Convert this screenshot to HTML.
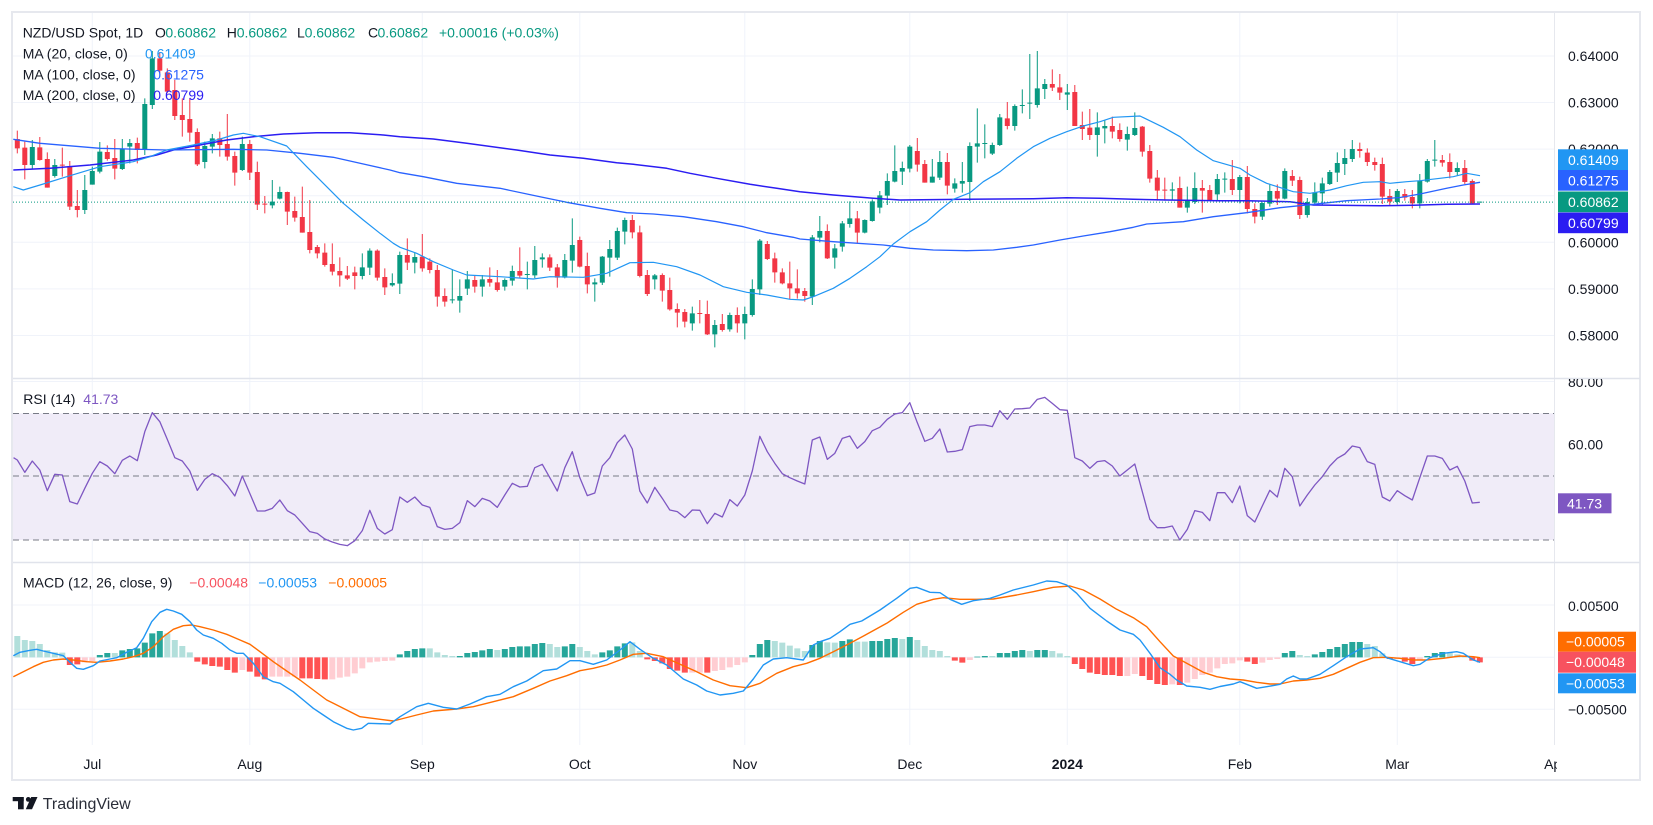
<!DOCTYPE html>
<html><head><meta charset="utf-8">
<style>
html,body{margin:0;padding:0;background:#fff;width:1653px;height:825px;overflow:hidden;}
svg{display:block;font-family:"Liberation Sans",Arial,sans-serif;}
</style></head>
<body>
<svg width="1653" height="825" viewBox="0 0 1653 825" xmlns="http://www.w3.org/2000/svg">
<defs>
<clipPath id="cm"><rect x="13" y="13" width="1541" height="365"/></clipPath>
<clipPath id="cr"><rect x="13" y="379" width="1541" height="183"/></clipPath>
<clipPath id="cd"><rect x="13" y="563" width="1541" height="182"/></clipPath>
<clipPath id="ca"><rect x="1555" y="379" width="85" height="183"/></clipPath>
<clipPath id="ct"><rect x="13" y="746" width="1544" height="33"/></clipPath>
</defs>
<rect x="0" y="0" width="1653" height="825" fill="#fff"/>

<!-- grid -->
<g stroke="#F0F3FA" stroke-width="1">
<line x1="13" x2="1554" y1="56" y2="56"/><line x1="13" x2="1554" y1="102.5" y2="102.5"/>
<line x1="13" x2="1554" y1="149.1" y2="149.1"/><line x1="13" x2="1554" y1="195.7" y2="195.7"/>
<line x1="13" x2="1554" y1="242.3" y2="242.3"/><line x1="13" x2="1554" y1="288.9" y2="288.9"/>
<line x1="13" x2="1554" y1="335.5" y2="335.5"/>
<line x1="13" x2="1554" y1="381.5" y2="381.5"/><line x1="13" x2="1554" y1="444.5" y2="444.5"/>
<line x1="13" x2="1554" y1="508.5" y2="508.5"/>
<line x1="13" x2="1554" y1="605" y2="605"/><line x1="13" x2="1554" y1="657.3" y2="657.3"/>
<line x1="13" x2="1554" y1="709.3" y2="709.3"/>
<line x1="92.3" x2="92.3" y1="13" y2="745"/><line x1="249.8" x2="249.8" y1="13" y2="745"/>
<line x1="422.3" x2="422.3" y1="13" y2="745"/><line x1="579.8" x2="579.8" y1="13" y2="745"/>
<line x1="744.8" x2="744.8" y1="13" y2="745"/><line x1="909.8" x2="909.8" y1="13" y2="745"/>
<line x1="1067.3" x2="1067.3" y1="13" y2="745"/><line x1="1239.8" x2="1239.8" y1="13" y2="745"/>
<line x1="1397.3" x2="1397.3" y1="13" y2="745"/>
</g>

<!-- RSI band -->
<rect x="13" y="413.3" width="1541" height="126.7" fill="#F0ECF8"/>
<g stroke="#787B86" stroke-width="1" stroke-dasharray="6 4">
<line x1="13" x2="1554" y1="413.5" y2="413.5"/>
<line x1="13" x2="1554" y1="476" y2="476"/>
<line x1="13" x2="1554" y1="540" y2="540"/>
</g>

<!-- MACD histogram -->
<g clip-path="url(#cd)">
<g transform="matrix(7.5 0 0 0.333333 92.3 375)" fill="none" stroke-width="0.8">
<path stroke="#26A69A" d="M1 847V840M2 847V834M4 847V826M5 847V822M6 847V820M7 847V803M8 847V775M9 847V768M41 847V838M42 847V828M43 847V822M44 847V820M49 847V843M50 847V834M51 847V831M52 847V826M53 847V822M55 847V822M56 847V816M57 847V814M58 847V814M59 847V807M60 847V804M63 847V814M64 847V807M68 847V832M69 847V826M70 847V814M71 847V805M88 847V840M89 847V807M90 847V795M96 847V810M97 847V798M100 847V798M101 847V793M104 847V798M105 847V798M106 847V792M107 847V789M109 847V786M118 847V845M119 847V843M121 847V834M122 847V834M123 847V828M124 847V825M126 847V825M127 847V825M159 847V834M160 847V828M163 847V838M164 847V831M165 847V822M166 847V816M167 847V807M168 847V801M169 847V801M178 847V843M179 847V834M180 847V831"/>
<path stroke="#B2DFDB" d="M-10 847V783M-9 847V795M-8 847V798M-7 847V807M-6 847V825M-5 847V832M-4 847V833M3 847V834M10 847V775M11 847V795M12 847V813M13 847V832M45 847V820M46 847V832M47 847V840M48 847V843M54 847V825M61 847V807M62 847V816M65 847V816M66 847V828M67 847V838M72 847V802M73 847V828M91 847V798M92 847V803M93 847V812M94 847V820M95 847V828M98 847V802M99 847V803M102 847V800M103 847V800M108 847V792M110 847V795M111 847V813M112 847V825M113 847V828M114 847V843M120 847V843M125 847V828M128 847V828M129 847V835M130 847V843M161 847V840M162 847V843M170 847V807M171 847V813M172 847V835M181 847V834M182 847V838M183 847V843"/>
<path stroke="#FF5252" d="M-3 847V870M-2 847V868M14 847V860M15 847V868M16 847V873M17 847V875M18 847V885M19 847V893M21 847V890M22 847V905M23 847V913M28 847V910M29 847V910M30 847V912M31 847V913M74 847V853M75 847V858M76 847V865M77 847V882M78 847V887M79 847V893M82 847V893M115 847V857M116 847V863M131 847V867M132 847V882M133 847V893M134 847V897M135 847V900M136 847V900M137 847V903M140 847V903M141 847V915M142 847V927M143 847V930M145 847V930M154 847V860M155 847V867M173 847V852M175 847V860M176 847V867M184 847V857M185 847V862"/>
<path stroke="#FFCDD2" d="M-1 847V862M0 847V858M20 847V885M24 847V905M25 847V905M26 847V905M27 847V905M32 847V913M33 847V908M34 847V905M35 847V895M36 847V880M37 847V862M38 847V860M39 847V858M40 847V857M80 847V893M81 847V893M83 847V888M84 847V885M85 847V877M86 847V870M87 847V862M117 847V855M138 847V903M139 847V897M144 847V928M146 847V923M147 847V912M148 847V900M149 847V893M150 847V880M151 847V867M152 847V865M153 847V856M156 847V863M157 847V855M158 847V852M174 847V852M177 847V855"/>
</g>
<!-- MACD lines -->
<polyline fill="none" stroke="#FF6D00" stroke-width="1.4" stroke-linejoin="round" points="13.3,676.7 23.3,671.7 33.3,666.7 43.3,662.3 53.3,660 63.3,659 73.3,660 86.7,661.7 96.7,662.3 110,661 123.3,659 133.3,656.7 143.3,653.3 153.3,646.7 163.3,636.7 173.3,629.3 183.3,625.7 191.7,625 200,626.7 213.3,630 226.7,634.3 240,640 250,644.3 260,651.7 273.3,661.7 286.7,671 300,680 313.3,690 326.7,700 333.3,703.3 360,716.7 393.3,721 416.7,715 433.3,711 456.7,709 473.3,706.7 493.3,701.7 513.3,696.7 533.3,688.3 550,681 566.7,675.7 580,670.7 593.3,668.3 606.7,665 620,660 633.3,654.3 646.7,653.3 663.3,656.7 680,664.3 696.7,671.7 713.3,680 730,685.7 746.7,687.7 760,683.3 776.7,673.3 793.3,666.7 806.7,663.3 820,658.3 833.3,651.7 850,643.3 866.7,634.3 886.7,623.3 903.3,612.3 916.7,604.3 933.3,599.3 943.3,597.7 960,599.3 976.7,599.3 993.3,599 1016.7,595 1033.3,591.7 1053.3,587.3 1070,586 1083.3,590 1100,599 1116.7,609.3 1133.3,617.7 1146.7,626.7 1160,641.7 1173.3,656 1186.7,663.3 1203.3,672.3 1216.7,676.7 1230,679 1243.3,680 1256.7,682.3 1270,684 1280,684 1293.3,681 1306.7,680 1320,678.3 1333.3,674.3 1346.7,668.3 1360,662.3 1373.3,657.7 1386.7,657.3 1400,658.3 1413.3,660 1426.7,660 1443.3,658.3 1460,656 1473.3,656.7 1480,657.7"/>
<polyline fill="none" stroke="#2196F3" stroke-width="1.4" stroke-linejoin="round" points="13.3,655.7 20,652.3 30,650.3 36.7,649.3 43.3,651 53.3,653.3 63.3,655.7 70,662.3 76.7,668.3 83.3,669.3 93.3,665.7 100,661 110,659 116.7,657.7 126.7,652.3 136.7,647.7 143.3,638.3 151.7,621.7 160,612.3 166.7,609.3 173.3,611 181.7,614.3 190,621.7 196.7,630 203.3,635 213.3,638.3 221.7,643.3 230,650 236.7,653.3 243.3,653.3 253.3,663.3 263.3,676.7 273.3,681.7 280,683.3 293.3,691.7 303.3,700 313.3,708.3 323.3,715 333.3,721.7 346.7,728.3 353.3,730 361.7,728.3 368.3,723.3 390,724 400,716.7 416.7,706.7 428.3,703.3 443.3,707.3 456.7,709 470,704 486.7,696.7 500,694.3 513.3,686.7 526.7,681 543.3,670.7 556.7,669 570,660.7 580,660.7 593.3,664.3 606.7,660 620,650 630,641.7 640,649.3 653.3,658.3 666.7,665 683.3,679 696.7,685 706.7,691 720,695 733.3,693.3 743.3,691 753.3,679 763.3,665 773.3,659 786.7,657.7 803.3,660 813.3,645 820,641.7 830,638.3 840,631.7 850,624.3 861.7,621 880,610 896.7,598.3 910,588.3 916.7,587.3 930,592.3 940,592.7 950,599.3 961.7,604.3 973.3,600.7 990,598.3 1000,595 1013.3,590 1033.3,585 1046.7,581 1056.7,581.7 1066.7,585 1076.7,593.3 1090,608.3 1106.7,621 1120,630 1133.3,634.3 1140,640 1150,653.3 1160,667.7 1170,674.3 1176.7,680 1186.7,686 1200,687.3 1210,689.3 1220,686.5 1233.3,684 1240,681.7 1246.7,684.3 1256.7,688.3 1266.7,686.7 1280,684.3 1286.7,679 1293.3,676 1300,679 1306.7,679 1320,674.3 1333.3,665.7 1346.7,656.7 1360,649 1373.3,647.7 1380,651.7 1386.7,657.7 1400,661.7 1413.3,665.7 1420,664.3 1430,657.7 1443.3,653.3 1456.7,651.7 1463.3,653.3 1473.3,660 1480,662.3"/>
</g>

<!-- RSI line -->
<g clip-path="url(#cr)">
<g transform="matrix(7.5 0 0 0.333333 92.3 375)">
<polyline fill="none" stroke="#7E57C2" stroke-width="1.3" vector-effect="non-scaling-stroke" stroke-linejoin="round" points="-10.5,248 -10,255 -9,292 -8,258 -7,285 -6,347 -5,298 -4,300 -3,380 -2,387 -1,340 0,295 1,260 2,273 3,296 4,256 5,243 6,257 7,170 8,113 9,140 10,193 11,248 12,258 13,288 14,346 15,313 16,296 17,307 18,332 19,363 20,303 21,355 22,408 23,408 24,400 25,375 26,407 27,420 28,445 29,470 30,475 31,492 32,501 33,508 34,512 35,497 36,467 37,406 38,460 39,477 40,464 41,366 42,382 43,366 44,390 45,397 46,455 47,463 48,460 49,443 50,377 51,395 52,370 53,378 54,397 55,360 56,325 57,336 58,334 59,278 60,268 61,308 62,348 63,278 64,230 65,308 66,362 67,354 68,273 69,248 70,203 71,180 72,222 73,348 74,384 75,337 76,370 77,405 78,410 79,428 80,405 81,406 82,446 83,415 84,426 85,374 86,393 87,360 88,288 89,184 90,230 91,265 92,296 93,308 94,318 95,327 96,195 97,186 98,253 99,235 100,190 101,183 102,220 103,200 104,167 105,157 106,133 107,117 108,113 109,83 110,143 111,199 112,190 113,162 114,231 115,229 116,224 117,155 118,150 119,150 120,155 121,107 122,133 123,102 124,101 125,99 126,73 127,67 128,85 129,104 130,106 131,248 132,258 133,280 134,260 135,257 136,273 137,303 138,285 139,267 140,350 141,433 142,458 143,458 144,453 145,495 146,463 147,407 148,412 149,437 150,353 151,353 152,383 153,333 154,422 155,441 156,393 157,346 158,366 159,280 160,305 161,393 162,360 163,330 164,305 165,273 166,250 167,237 168,213 169,218 170,260 171,268 172,366 173,378 174,347 175,362 176,375 177,308 178,243 179,243 180,250 181,285 182,274 183,318 184,384 185,382"/>
</g>
</g>

<!-- candles -->
<g clip-path="url(#cm)">
<g transform="matrix(7.5 0 0 0.333333 92.3 40)" fill="none">
<path stroke="#089981" stroke-width="0.1333" d="M-8 300V388M-5 357V413M-1 405V522M0 380V434M1 306V400M4 297V390M5 297V370M7 175V345M8 33V207M15 305V385M16 282V340M20 290V393M24 420V505M25 440V478M36 640V718M37 625V705M40 700V740M41 635V762M43 637V700M48 688V790M49 718V818M50 693V765M52 705V770M55 715V752M56 677V737M58 665V748M59 618V714M60 640V683M63 642V715M64 535V698M67 715V785M68 648V735M69 600V710M70 563V660M71 533V613M75 702V748M80 800V872M83 840V922M85 818V875M87 800V898M88 718V830M89 597V765M96 585V795M97 528V607M99 612V686M100 543V635M101 484V563M103 538V580M104 478V545M105 453V520M106 400V495M107 316V427M108 365V435M109 315V397M112 357V428M113 333V420M115 415V458M116 366V458M117 307V483M118 205V368M119 253V355M120 308V345M121 222V318M123 193V272M124 148V220M125 42V237M126 33V203M127 117V177M130 132V210M134 217V350M135 240V310M138 260V332M139 217V288M144 427V480M146 440V518M147 397V492M150 402V480M151 397V458M153 405V490M156 487V540M157 432V500M159 385V478M162 474V533M163 427V496M164 413V496M165 390V435M166 337V426M167 327V405M168 300V366M174 447V494M177 402V505M178 357V428M179 300V380M182 367V406"/>
<path stroke="#089981" stroke-width="0.6667" d="M-8 321V375M-5 375V408M-1 450V510M0 393V434M1 335V395M4 327V387M5 309V320M7 192V330M8 55V195M15 318V366M16 295V320M20 312V390M24 485V496M25 456V476M36 682V708M37 632V683M40 729V736M41 645V731M43 651V668M48 778V781M49 768V782M50 718V746M52 718V740M55 720V740M56 693V722M58 702V705M59 660V706M60 652V658M63 660V713M64 615V662M67 727V733M68 650V728M69 627V653M70 573V653M71 540V575M75 706V718M80 820V850M83 855V883M85 825V868M87 822V850M88 747V825M89 602V748M96 592V770M97 573V593M99 625V653M100 550V620M101 535V552M103 540V578M104 484V543M105 466V503M106 423V467M107 393V425M108 384V395M109 320V386M112 410V428M113 366V413M115 430V446M116 423V431M117 318V426M118 310V320M119 309V312M120 315V341M121 232V315M123 198V258M124 195V198M125 188V191M126 145V195M127 132V147M130 157V164M134 262V285M135 258V265M138 282V299M139 264V285M144 448V452M146 483V503M147 444V486M150 417V463M151 416V419M153 411V450M156 489V530M157 453V491M159 393V476M162 486V525M163 457V488M164 430V460M165 396V432M166 369V398M167 354V372M168 327V357M174 453V486M177 423V490M178 363V425M179 359V362M182 384V396M185 485V488"/>
<path stroke="#F23645" stroke-width="0.1333" d="M-10 272V340M-9 305V418M-7 291V362M-6 337V443M-4 323V410M-3 363V510M-2 450V532M2 316V362M3 297V418M6 293V370M9 36V100M10 85V160M11 120V240M12 175V290M13 175V305M14 265V378M17 275V350M18 222V362M19 335V437M21 300V420M22 365V510M23 468V520M26 455V555M27 470V545M28 440V578M29 480V640M30 615V655M31 610V680M32 610V706M33 652V740M34 678V720M35 680V748M38 628V722M39 685V765M42 595V690M44 582V695M45 655V700M46 675V800M47 745V800M51 705V758M53 682V740M54 690V755M57 622V715M61 643V693M62 672V743M65 590V682M66 638V760M72 525V595M73 557V712M74 690V768M76 700V785M77 713V812M78 790V862M79 807V862M81 780V850M82 782V885M84 822V875M86 802V878M90 603V660M91 638V728M92 685V733M93 665V778M94 688V776M95 744V785M98 553V657M102 513V610M110 294V395M111 360V428M114 339V463M122 186V268M128 88V153M129 102V180M131 135V258M132 215V300M133 207V300M136 230V295M137 250V305M140 258V350M141 315V428M142 390V482M143 413V482M145 410V503M148 420V518M149 435V482M152 360V465M154 378V520M155 490V550M158 433V495M160 390V438M161 410V537M169 308V353M170 325V378M171 353V392M172 353V492M173 447V497M175 447V482M176 450V505M180 345V380M181 340V415M183 360V432M184 418V492"/>
<path stroke="#F23645" stroke-width="0.6667" d="M-10 297V325M-9 323V375M-7 322V360M-6 357V443M-4 374V377M-3 378V500M-2 498V510M2 336V357M3 354V386M6 309V330M9 55V92M10 97V155M11 150V228M12 225V240M13 237V278M14 276V373M17 295V315M18 312V350M19 348V398M21 312V398M22 396V494M23 491V494M26 456V515M27 513V533M28 531V578M29 576V630M30 621V640M31 638V675M32 672V695M33 693V706M34 706V716M35 697V708M38 632V713M39 711V742M42 645V668M44 650V685M45 665V690M46 690V770M47 768V785M51 720V740M53 717V728M54 727V750M57 693V707M61 652V683M62 682V713M65 600V680M66 678V733M72 540V577M73 577V708M74 705V762M76 705V752M77 750V808M78 807V818M79 816V845M81 819V822M82 822V883M84 852V870M86 825V850M90 612V657M91 655V697M92 697V730M93 730V745M94 745V760M95 753V768M98 573V655M102 535V578M110 333V374M111 372V428M114 366V437M122 235V258M128 132V143M129 142V158M131 156V258M132 255V267M133 263V285M136 258V275M137 270V297M140 260V335M141 333V416M142 413V452M143 449V452M145 444V503M148 444V452M149 450V480M152 417V450M154 411V507M155 507V530M158 453V476M160 408V422M161 420V525M169 327V333M170 338V366M171 366V375M172 372V470M173 468V485M175 462V473M176 471V490M180 360V368M181 366V396M183 384V426M184 423V490"/>
</g>
<!-- MAs -->
<polyline fill="none" stroke="#2B1DF2" stroke-width="1.5" stroke-linejoin="round" points="13.3,170 50,168.3 90,165 133.3,160 156.7,155 173.3,150 200,145 226.7,140 253.3,136.7 283.3,134 316.7,132.7 350,132.7 383.3,135 400,136.7 433.3,139 466.7,143.3 516.7,150 550,155 583.3,158.3 616.7,162.7 633.3,164.3 666.7,168.3 690,173.3 716.7,178.3 750,184.3 776.7,188.3 800,191.7 833.3,195 873.3,198.3 900,200 966.7,199.3 1033.3,198.7 1066.7,197.7 1100,198.3 1133.3,199.3 1166.7,200 1220,200.7 1246.7,200.7 1290,201.7 1313.3,205 1380,205.7 1413.3,205.3 1446.7,204.3 1480,204"/>
<polyline fill="none" stroke="#2962FF" stroke-width="1.3" stroke-linejoin="round" points="13.3,139.3 40,143.3 100,148.3 166.7,150 233.3,149.3 266.7,150 300,153.3 333.3,157.3 360,163.3 390,170 400,172.7 423.3,176.7 456.7,183.3 500,188.3 540,196.7 566.7,202.3 600,208.3 626.7,212.7 653.3,214 683.3,216.7 716.7,221.7 743.3,226.7 766.7,232.7 793.3,237.3 800,239 833.3,241.7 883.3,245 910,248.3 933.3,250 966.7,250.7 993.3,250 1016.7,247.3 1033.3,245 1060,240 1083.3,236 1110,231.7 1133.3,227.3 1146.7,224 1183.3,221.7 1213.3,216.7 1246.7,212.7 1280,207.7 1313.3,204.3 1346.7,200.7 1380,199 1400,197.5 1420,194 1446.7,188.3 1463.3,185 1480,182.3"/>
<polyline fill="none" stroke="#2196F3" stroke-width="1.2" stroke-linejoin="round" points="13.3,186.7 23.3,190 40,185 66.7,176.7 100,166.7 133.3,161.7 150,156.7 166.7,150 193.3,145 216.7,140 233.3,135 243.3,133.3 260,136.7 286.7,146 306.7,166.7 326.7,186.7 343.3,203.3 363.3,220 380,233.3 393.3,243.3 400,247.3 416.7,253.3 433.3,261.7 453.3,270 466.7,275 500,276.7 533.3,279 550,276.7 583.3,277.3 606.7,273.3 630,262.7 653.3,262.3 676.7,266.7 700,275 723.3,286.7 746.7,292.3 766.7,295 790,299.3 803.3,300 813.3,296.7 833.3,288.3 850,278.3 866.7,266.7 880,256.7 893.3,244 910,231.7 926.7,221.7 940,210 953.3,199.3 970,192.7 983.3,181.7 1000,171.7 1016.7,158.3 1033.3,146.7 1050,138.3 1066.7,131.7 1083.3,126 1100,121.7 1113.3,117.3 1140,116 1163.3,127.3 1180,136.7 1196.7,150 1213.3,160.7 1240,168.3 1250,175 1266.7,183.3 1293.3,191.7 1310,193.3 1330,190 1346.7,185.7 1363.3,182.3 1380,181.7 1390,183.3 1406.7,181.7 1420,180.7 1440,178.3 1453.3,176.7 1466.7,173.3 1480,175.7"/>
</g>
<line x1="13" x2="1554" y1="202.1" y2="202.1" stroke="#089981" stroke-width="1" stroke-dasharray="1 2"/>

<!-- frame & separators -->
<rect x="12" y="12" width="1628" height="768" fill="none" stroke="#E6E8EE" stroke-width="2"/>
<line x1="1554.5" x2="1554.5" y1="13" y2="745" stroke="#E6E8EE" stroke-width="1"/>
<line x1="13" x2="1640" y1="378.5" y2="378.5" stroke="#E0E3EB" stroke-width="1.5"/>
<line x1="13" x2="1640" y1="562.5" y2="562.5" stroke="#E0E3EB" stroke-width="1.5"/>

<!-- legends -->
<g font-size="14" fill="#131722">
<text x="22.7" y="37.5">NZD/USD Spot, 1D</text>
<text x="155" y="37.5">O</text><text x="165.4" y="37.5" fill="#089981">0.60862</text>
<text x="226.8" y="37.5">H</text><text x="236.7" y="37.5" fill="#089981">0.60862</text>
<text x="297" y="37.5">L</text><text x="304.6" y="37.5" fill="#089981">0.60862</text>
<text x="368" y="37.5">C</text><text x="377.5" y="37.5" fill="#089981">0.60862</text>
<text x="439" y="37.5" fill="#089981">+0.00016 (+0.03%)</text>
<text x="22.7" y="58.3">MA (20, close, 0)</text><text x="145" y="58.3" fill="#2196F3">0.61409</text>
<text x="22.7" y="79.3">MA (100, close, 0)</text><text x="153.3" y="79.3" fill="#2962FF">0.61275</text>
<text x="22.7" y="100">MA (200, close, 0)</text><text x="153.3" y="100" fill="#2B1DF2">0.60799</text>
<text x="23.3" y="404">RSI (14)</text><text x="83.3" y="404" fill="#7E57C2">41.73</text>
<text x="23" y="587.3">MACD (12, 26, close, 9)</text>
<text x="189.3" y="587.3" fill="#F7525F">−0.00048</text>
<text x="258.3" y="587.3" fill="#2196F3">−0.00053</text>
<text x="328.3" y="587.3" fill="#FF6D00">−0.00005</text>
</g>

<!-- price axis -->
<g font-size="14" fill="#131722">
<text x="1568" y="61">0.64000</text>
<text x="1568" y="107.5">0.63000</text>
<text x="1568" y="154">0.62000</text>
<text x="1568" y="247.3">0.60000</text>
<text x="1568" y="293.9">0.59000</text>
<text x="1568" y="340.5">0.58000</text>
<g clip-path="url(#ca)"><text x="1568" y="387">80.00</text><text x="1568" y="449.5">60.00</text></g>
<text x="1568" y="611">0.00500</text>
<text x="1568" y="714.3">−0.00500</text>
</g>
<g font-size="14" fill="#fff">
<rect x="1558" y="149.3" width="70" height="20.7" fill="#2196F3"/><text x="1568" y="164.8">0.61409</text>
<rect x="1558" y="170" width="70" height="20.7" fill="#2962FF"/><text x="1568" y="185.5">0.61275</text>
<rect x="1558" y="191.5" width="70" height="20.7" fill="#089981"/><text x="1568" y="207">0.60862</text>
<rect x="1558" y="212.5" width="70" height="20.7" fill="#2B1DF2"/><text x="1568" y="228">0.60799</text>
<rect x="1558" y="493.3" width="53.5" height="20" fill="#7E57C2"/><text x="1567" y="508.3">41.73</text>
<rect x="1558" y="631.7" width="78" height="20" fill="#FF6D00"/><text x="1566" y="646.7">−0.00005</text>
<rect x="1558" y="651.7" width="78" height="21" fill="#F7525F"/><text x="1566" y="667.2">−0.00048</text>
<rect x="1558" y="673.3" width="78" height="20" fill="#2196F3"/><text x="1566" y="688.3">−0.00053</text>
</g>

<!-- time axis -->
<g font-size="14" fill="#131722" text-anchor="middle" clip-path="url(#ct)">
<text x="92.3" y="769">Jul</text><text x="249.8" y="769">Aug</text><text x="422.3" y="769">Sep</text>
<text x="579.8" y="769">Oct</text><text x="744.8" y="769">Nov</text><text x="909.8" y="769">Dec</text>
<text x="1067.3" y="769" font-weight="bold">2024</text><text x="1239.8" y="769">Feb</text>
<text x="1397.3" y="769">Mar</text><text x="1555" y="769">Apr</text>
</g>

<!-- footer -->
<g fill="#131722">
<rect x="12.7" y="797" width="11" height="4.2"/>
<rect x="18" y="797" width="5.7" height="12.3"/>
<circle cx="28.3" cy="799.4" r="2.4"/>
<polygon points="31.2,797 37.5,797 32,809.3 25.8,809.3"/>
<text x="42.7" y="809" font-size="16" fill="#2A2E39">TradingView</text>
</g>
</svg>
</body></html>
